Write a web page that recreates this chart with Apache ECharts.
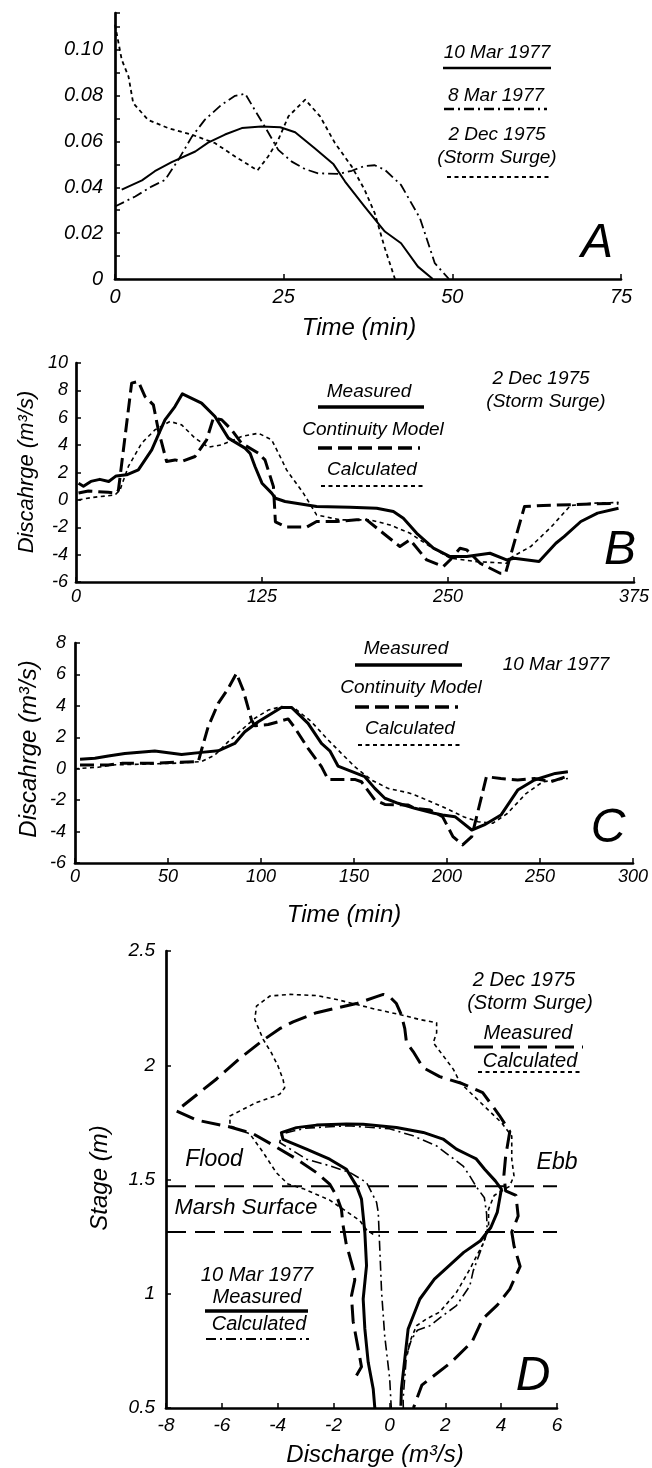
<!DOCTYPE html>
<html>
<head>
<meta charset="utf-8">
<script src="https://cdn.jsdelivr.net/npm/echarts@6/dist/echarts.min.js"></script>
<style>
  html, body { margin: 0; padding: 0; background: #fff; }
  #chart { width: 652px; height: 1468px; }
</style>
</head>
<body>
<div id="chart"></div>
<script>
// ---------- Panel A: drainage per unit time, three tides ----------
const ticksAx = [0, 25, 50, 75];
const ticksAy = [0, 0.02, 0.04, 0.06, 0.08, 0.10];
const mar10A = [[1,0.039],[4,0.043],[5.9,0.047],[8.4,0.051],[11.9,0.0556],[13.8,0.0595],[16.3,0.063],[18.8,0.0658],[21.7,0.0665],[24.5,0.0662],[26.7,0.064],[29.6,0.057],[32.4,0.050],[34.1,0.0425],[37,0.0316],[40,0.0207],[42.4,0.0156],[44.9,0.0054],[47.1,0]];
const mar8A = [[0,0.0316],[3,0.036],[5.4,0.0403],[7.4,0.0432],[9.4,0.052],[11.4,0.0621],[13.3,0.0694],[15.8,0.076],[17.8,0.0799],[19.3,0.0808],[20.7,0.0738],[22.5,0.065],[24.2,0.0563],[26.2,0.0512],[28.2,0.0479],[30.1,0.0461],[33.1,0.0458],[35.1,0.0472],[37,0.0493],[38.5,0.0496],[40,0.0476],[42.4,0.041],[45.2,0.0265],[47.4,0.0069],[49.5,0]];
const dec2A = [[0,0.1109],[1,0.0956],[2,0.0883],[2.7,0.0767],[4.9,0.0694],[7.9,0.0658],[11.4,0.0629],[14.8,0.0593],[17.8,0.0534],[19.8,0.0498],[21.1,0.0473],[22.7,0.0534],[24.2,0.0607],[25.7,0.0709],[28.2,0.0782],[30.4,0.0709],[32.6,0.0593],[35.1,0.049],[37,0.0389],[38.5,0.0287],[40,0.0134],[41.5,0]];

// ---------- Panel B: discharge, 2 Dec 1975 storm surge ----------
const ticksBx = [0, 125, 250, 375];
const ticksBy = [-6, -4, -2, 0, 2, 4, 6, 8, 10];
const measuredB = [[1.7,1.22],[5,1.0],[10,1.35],[16,1.5],[22,1.34],[27,1.75],[34,1.83],[41.9,2.19],[46.4,2.92],[50.9,3.65],[55.3,4.75],[59.8,5.85],[66.5,6.82],[71.5,7.75],[84.4,7.07],[93.4,6.09],[102.4,4.51],[113.6,3.78],[117,3.4],[120.3,2.44],[125,1.22],[131.5,0.49],[134,0.12],[140.5,-0.12],[161.7,-0.49],[184.2,-0.53],[202.1,-0.61],[213.3,-0.85],[220,-1.34],[229,-2.44],[240.2,-3.53],[251.4,-4.14],[262.6,-4.14],[278.2,-3.9],[289.4,-4.39],[294.4,-4.26],[311.2,-4.5],[322.5,-3.17],[328,-2.68],[339.3,-1.58],[350.5,-0.97],[364.6,-0.61]];
const continuityB = [[1.7,0.5],[8.3,0.65],[21.7,0.55],[27,0.5],[28.5,0.7],[37.4,8.53],[41.9,8.65],[46.4,7.55],[52,6.94],[55.3,5.12],[60.9,2.8],[66.5,2.92],[71,2.8],[80,3.17],[87.8,4.39],[92.3,5.97],[97.9,5.85],[104.6,5.12],[111.3,4.14],[122.6,3.41],[127,2.92],[132.7,0.97],[134,-1.6],[141.5,-1.99],[155,-1.99],[161.7,-1.58],[175.2,-1.58],[188.6,-1.46],[195.3,-1.46],[206.5,-2.44],[217.7,-3.41],[224.5,-2.92],[235.7,-4.39],[246.9,-4.87],[251.4,-4.39],[258.1,-3.53],[262.6,-3.65],[271.6,-4.63],[285,-5.36],[288.7,-5.36],[301.4,-0.49],[314,-0.41],[364.6,-0.24]];
const calculatedB = [[1.7,0],[10.5,0.17],[26.2,0.36],[29.6,0.73],[35.2,2.44],[44.1,4.14],[53.1,5.12],[63.2,5.73],[71,5.48],[80,4.51],[88.9,3.85],[97.9,4.02],[111.3,4.63],[122.6,4.87],[131.5,4.39],[138.3,2.92],[141.5,2.19],[152.8,0.49],[161.7,-1.1],[177.4,-1.46],[197.6,-1.46],[211,-1.83],[224.5,-2.44],[238,-3.41],[251.4,-4.26],[269.4,-4.51],[289.4,-4.63],[291.5,-4.26],[305.6,-3.41],[319.6,-1.95],[332.3,-0.41],[347.7,-0.24],[364.6,-0.19]];

// ---------- Panel C: discharge, 10 Mar 1977 ----------
const ticksCx = [0, 50, 100, 150, 200, 250, 300];
const ticksCy = [-6, -4, -2, 0, 2, 4, 6, 8];
const measuredC = [[2.7,0.6],[10.7,0.66],[17.9,0.81],[26.8,0.97],[42.9,1.13],[57.3,0.91],[68,1.04],[77,1.14],[85.9,1.61],[91.3,2.35],[98.5,2.99],[111,3.9],[116.4,3.9],[125.3,2.89],[132.5,1.61],[137,1.14],[141.4,0.17],[146.9,-0.09],[155.8,-0.51],[161.2,-1.25],[166.6,-1.88],[173.7,-2.2],[182.7,-2.52],[193.1,-2.83],[197.6,-2.95],[204.3,-3.05],[213.3,-3.9],[220,-3.58],[229,-2.95],[238,-1.36],[247,-0.72],[258.2,-0.3],[265,-0.19]];
const continuityC = [[2.7,0.24],[17.9,0.24],[25.1,0.34],[39.4,0.34],[53.7,0.41],[66.3,0.45],[68,1.19],[71.6,2.67],[77,4.16],[82.4,5.11],[86.8,6.07],[90.4,5.01],[94.9,3.1],[96.7,2.74],[103.9,2.81],[114.6,3.17],[118.2,2.6],[125.3,1.3],[132.5,0.13],[136.1,-0.68],[150.4,-0.68],[154,-0.83],[161.2,-1.99],[166.6,-2.27],[179.2,-2.31],[182.7,-2.52],[190.9,-2.63],[197.6,-3.05],[203.2,-4.32],[208.4,-4.85],[213.3,-4.32],[221.2,-0.51],[229,-0.62],[238,-0.72],[247,-0.62],[256,-0.83],[263.8,-0.51]];
const calculatedC = [[0,0],[12.5,0.09],[19.7,0.24],[39.4,0.3],[51.9,0.34],[68,0.45],[75.2,0.87],[82.4,1.72],[89.5,2.46],[96.7,3.21],[103.9,3.73],[111,3.95],[118.2,3.84],[127.1,2.99],[136.1,1.83],[143.2,0.98],[150.4,0.13],[159.4,-0.72],[168.3,-1.25],[179.1,-1.53],[182.7,-1.67],[197.6,-2.42],[208.8,-3.05],[216.7,-3.37],[224.6,-3.47],[232.4,-2.85],[242.5,-1.58],[251.5,-0.83],[265,-0.62]];

// ---------- Panel D: stage vs discharge loops [discharge, stage] ----------
const ticksDx = [-8, -6, -4, -2, 0, 2, 4, 6];
const ticksDy = [0.5, 1, 1.5, 2, 2.5];
const referenceStages = [1.47, 1.27];
const stormMeasuredD = [[-1.18,0.642],[-1.0,0.68],[-1.12,0.76],[-1.3,0.88],[-1.36,0.99],[-1.24,1.06],[-1.3,1.11],[-1.55,1.22],[-1.66,1.30],[-1.72,1.37],[-1.9,1.43],[-2.14,1.48],[-2.61,1.53],[-3.33,1.59],[-4.16,1.65],[-4.88,1.70],[-5.71,1.73],[-6.91,1.76],[-7.63,1.80],[-6.91,1.87],[-6.19,1.94],[-5.36,2.03],[-4.52,2.11],[-3.93,2.16],[-3.45,2.19],[-2.61,2.23],[-1.18,2.27],[-0.46,2.30],[-0.22,2.31],[0.01,2.30],[0.25,2.27],[0.43,2.22],[0.55,2.16],[0.61,2.10],[0.85,2.06],[1.2,1.99],[1.8,1.95],[2.6,1.92],[3.34,1.88],[3.94,1.78],[4.31,1.71],[4.16,1.60],[4.1,1.52],[4.16,1.45],[4.53,1.43],[4.61,1.34],[4.38,1.27],[4.46,1.21],[4.68,1.12],[4.31,1.02],[3.86,0.95],[3.34,0.89],[2.96,0.79],[2.21,0.70],[1.16,0.60],[0.86,0.50]];
const stormCalculatedD = [[-0.58,1.26],[-0.82,1.28],[-1.06,1.32],[-1.54,1.36],[-2.14,1.41],[-3.09,1.46],[-3.63,1.48],[-4.05,1.53],[-4.53,1.62],[-5.0,1.70],[-5.71,1.735],[-5.71,1.778],[-4.76,1.837],[-3.93,1.873],[-3.75,1.902],[-3.81,1.938],[-3.99,1.997],[-4.23,2.055],[-4.52,2.113],[-4.82,2.2],[-4.76,2.259],[-4.28,2.303],[-3.56,2.31],[-2.61,2.305],[-1.89,2.288],[-1.18,2.266],[-0.46,2.244],[0.37,2.222],[1.09,2.2],[1.69,2.186],[1.69,2.142],[1.57,2.099],[1.93,2.041],[2.29,1.982],[2.53,1.924],[3.26,1.837],[4.01,1.749],[4.38,1.69],[4.38,1.589],[4.46,1.516],[4.3,1.47],[3.75,1.43],[3.55,1.37],[3.55,1.3],[3.4,1.23],[3.1,1.16],[2.88,1.108],[2.4,1.006],[1.8,0.92],[1.33,0.89],[0.97,0.86],[0.73,0.79],[0.62,0.72]];
const mar10MeasuredD = [[-0.52,0.496],[-0.58,0.583],[-0.76,0.7],[-0.88,0.846],[-0.94,0.977],[-0.82,1.123],[-0.88,1.268],[-1.0,1.414],[-1.18,1.472],[-1.54,1.545],[-2.14,1.589],[-2.97,1.633],[-3.81,1.676],[-3.87,1.705],[-3.33,1.727],[-2.61,1.738],[-1.54,1.743],[-0.94,1.742],[0.25,1.728],[1.21,1.706],[1.92,1.677],[2.4,1.633],[2.88,1.604],[3.11,1.59],[3.41,1.545],[3.79,1.494],[4.01,1.458],[3.86,1.356],[3.63,1.29],[3.26,1.232],[2.66,1.181],[2.14,1.123],[1.61,1.064],[1.09,0.977],[0.67,0.846],[0.55,0.715],[0.43,0.583],[0.41,0.51]];
const mar10CalculatedD = [[0.07,0.49],[0.01,0.627],[-0.17,0.817],[-0.28,1.006],[-0.34,1.181],[-0.37,1.268],[-0.4,1.356],[-0.46,1.4],[-0.82,1.487],[-1.42,1.531],[-2.14,1.56],[-2.97,1.589],[-3.93,1.662],[-3.85,1.70],[-3.0,1.725],[-1.5,1.735],[0,1.722],[0.85,1.691],[1.69,1.647],[2.16,1.603],[2.64,1.559],[2.88,1.515],[3.1,1.47],[3.4,1.42],[3.48,1.35],[3.5,1.27],[3.3,1.2],[3.0,1.1],[2.88,1.035],[2.4,0.948],[1.92,0.905],[1.45,0.86],[1.0,0.84],[0.79,0.8],[0.61,0.73],[0.49,0.54],[0.5,0.49]];

// ---------- styling ----------
const FONT = '"Liberation Sans", Arial, Helvetica, sans-serif';
const INK = '#000';

function axisFor(gridIndex, ticks, fontSize, margin) {
  return {
    type: 'value', gridIndex,
    min: ticks[0], max: ticks[ticks.length - 1], interval: ticks[1] - ticks[0],
    axisLine: { onZero: false, lineStyle: { color: INK, width: 2.7 } },
    axisTick: { inside: true, length: 5, lineStyle: { color: INK, width: 1.5 } },
    splitLine: { show: false },
    axisLabel: { color: INK, fontStyle: 'italic', fontFamily: FONT, fontSize, margin }
  };
}

// panel A y axis runs a little past its top label, with unlabeled ticks every 0.01
const yA = axisFor(0, ticksAy, 20, 12);
yA.max = 0.116;
yA.interval = 0.01;
yA.axisLabel.formatter = function (v) {
  const hit = ticksAy.find(t => Math.abs(t - v) < 1e-6);
  if (hit === undefined) return '';
  return hit === 0 ? '0' : hit.toFixed(2);
};

function line(name, data, xi, width, dash) {
  return {
    name, type: 'line', data, xAxisIndex: xi, yAxisIndex: xi,
    showSymbol: false, symbol: 'none', silent: true, animation: false,
    lineStyle: { color: INK, width, type: dash || 'solid', cap: 'butt', join: 'round' }
  };
}

const DASHDOT = [10, 4, 2, 4];
const DOT = [4, 3.5];
const DASH = [14, 6];
const LONGDASH = [19, 8];

const series = [
  line('10 Mar 1977', mar10A, 0, 2),
  line('8 Mar 1977', mar8A, 0, 1.8, DASHDOT),
  line('2 Dec 1975', dec2A, 0, 1.8, DOT),

  line('Calculated', calculatedB, 1, 1.6, DOT),
  line('Continuity Model', continuityB, 1, 3, DASH),
  line('Measured', measuredB, 1, 3),

  line('Calculated', calculatedC, 2, 1.6, DOT),
  line('Continuity Model', continuityC, 2, 3, DASH),
  line('Measured', measuredC, 2, 3),

  line('Calculated (storm)', stormCalculatedD, 3, 1.6, DOT),
  line('Measured (storm)', stormMeasuredD, 3, 3, LONGDASH),
  line('Calculated (10 Mar)', mar10CalculatedD, 3, 1.6, DASHDOT),
  line('Measured (10 Mar)', mar10MeasuredD, 3, 3)
];
referenceStages.forEach(s => {
  series.push(line('stage ' + s, [[ticksDx[0], s], [ticksDx[ticksDx.length - 1], s]], 3, 2, [20, 9]));
});

// ---------- annotation helpers ----------
function txt(x, y, text, size, extra) {
  return Object.assign({
    type: 'text', x, y, silent: true,
    style: { text, fill: INK, fontSize: size, fontStyle: 'italic', fontFamily: FONT, align: 'center', verticalAlign: 'middle' }
  }, extra || {});
}
function seg(x1, x2, y, width, dash) {
  return {
    type: 'line', silent: true,
    shape: { x1, y1: y, x2, y2: y },
    style: { stroke: INK, lineWidth: width, lineDash: dash || null }
  };
}

const LEG = 19;
const graphics = [
  // panel A
  txt(497, 53, '10 Mar 1977', LEG), seg(443, 551, 68, 2.5),
  txt(496, 96, '8 Mar 1977', LEG), seg(444, 547, 109, 2.5, DASHDOT),
  txt(497, 135, '2 Dec 1975', LEG), txt(497, 158, '(Storm Surge)', LEG), seg(447, 551, 177, 2, DOT),
  txt(597, 244, 'A', 48),
  txt(359, 328, 'Time (min)', 24),

  // panel B
  txt(369, 392, 'Measured', LEG), seg(318, 424, 407, 3.5),
  txt(373, 430, 'Continuity Model', LEG), seg(318, 420, 448, 3.5, DASH),
  txt(372, 470, 'Calculated', LEG), seg(321, 424, 486, 2, DOT),
  txt(541, 379, '2 Dec 1975', LEG), txt(546, 402, '(Storm Surge)', LEG),
  txt(620, 551, 'B', 48),
  txt(27, 472, 'Discahrge (m³/s)', 22, { rotation: Math.PI / 2 }),

  // panel C
  txt(406, 649, 'Measured', LEG), seg(355, 462, 665, 3.5),
  txt(411, 688, 'Continuity Model', LEG), seg(355, 458, 707, 3.5, DASH),
  txt(410, 729, 'Calculated', LEG), seg(358, 462, 745, 2, DOT),
  txt(556, 665, '10 Mar 1977', LEG),
  txt(608, 829, 'C', 48),
  txt(29, 749, 'Discahrge (m³/s)', 24, { rotation: Math.PI / 2 }),
  txt(344, 915, 'Time (min)', 24),

  // panel D
  txt(524, 980, '2 Dec 1975', 20), txt(530, 1003, '(Storm Surge)', 20),
  txt(528, 1033, 'Measured', 20), seg(474, 583, 1047, 3, LONGDASH),
  txt(530, 1061, 'Calculated', 20), seg(478, 583, 1072, 2, DOT),
  txt(257, 1275, '10 Mar 1977', 20),
  txt(257, 1297, 'Measured', 20), seg(205, 308, 1311, 3.5),
  txt(259, 1324, 'Calculated', 20), seg(206, 309, 1339, 2, DASHDOT),
  txt(214, 1160, 'Flood', 23), txt(557, 1163, 'Ebb', 23),
  txt(246, 1208, 'Marsh Surface', 22),
  txt(533, 1377, 'D', 48),
  txt(100, 1178, 'Stage (m)', 24, { rotation: Math.PI / 2 }),
  txt(375, 1455, 'Discharge (m³/s)', 24)
];

const option = {
  animation: false,
  backgroundColor: '#fff',
  grid: [
    { left: 115, top: 13, width: 506, height: 266 },
    { left: 76, top: 363, width: 558, height: 219 },
    { left: 75, top: 643, width: 558, height: 220 },
    { left: 166, top: 951, width: 391, height: 457 }
  ],
  xAxis: [
    axisFor(0, ticksAx, 20, 8),
    axisFor(1, ticksBx, 18, 6),
    axisFor(2, ticksCx, 18, 5),
    axisFor(3, ticksDx, 19, 8)
  ],
  yAxis: [
    yA,
    axisFor(1, ticksBy, 18, 8),
    axisFor(2, ticksCy, 18, 9),
    axisFor(3, ticksDy, 19, 11)
  ],
  series,
  graphic: graphics
};

const chart = echarts.init(document.getElementById('chart'), null, { renderer: 'canvas' });
chart.setOption(option);
</script>
</body>
</html>
